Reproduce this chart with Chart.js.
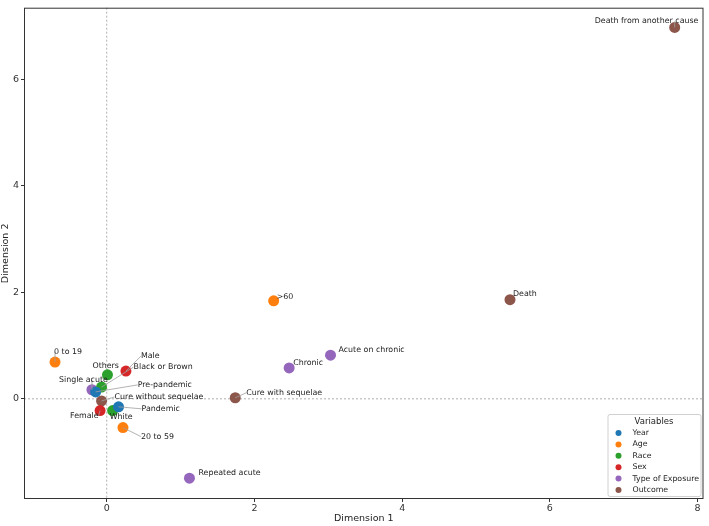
<!DOCTYPE html>
<html>
<head>
<meta charset="utf-8">
<script src="https://cdn.jsdelivr.net/npm/chart.js@4.4.1/dist/chart.umd.min.js"></script>
<style>
  body { margin: 0; background: #fff; }
  #wrap { width: 709px; height: 526px; }
</style>
</head>
<body>
<div id="wrap"><canvas id="mcaChart" width="709" height="526"></canvas></div>
<script>
// categories and coordinates (Dimension 1 / Dimension 2)
var groupNames = ['Year', 'Age', 'Race', 'Sex', 'Type of Exposure', 'Outcome'];
var groupColors = ['#1f77b4', '#ff7f0e', '#2ca02c', '#d62728', '#9467bd', '#8c564b'];

var yearLabels = ['Pre-pandemic', 'Pandemic'];
var yearDim1 = [-0.15, 0.16];
var yearDim2 = [0.13, -0.15];

var ageLabels = ['0 to 19', '20 to 59', '>60'];
var ageDim1 = [-0.70, 0.22, 2.26];
var ageDim2 = [0.69, -0.54, 1.84];

var raceLabels = ['Others', 'Black or Brown', 'White'];
var raceDim1 = [0.01, -0.07, 0.08];
var raceDim2 = [0.45, 0.22, -0.22];

var sexLabels = ['Male', 'Female'];
var sexDim1 = [0.26, -0.09];
var sexDim2 = [0.52, -0.22];

var exposureLabels = ['Single acute', 'Chronic', 'Acute on chronic', 'Repeated acute'];
var exposureDim1 = [-0.20, 2.47, 3.03, 1.12];
var exposureDim2 = [0.17, 0.58, 0.82, -1.49];

var outcomeLabels = ['Cure without sequelae', 'Cure with sequelae', 'Death', 'Death from another cause'];
var outcomeDim1 = [-0.07, 1.74, 5.46, 7.69];
var outcomeDim2 = [-0.04, 0.02, 1.86, 6.97];

var xTicks = [0, 2, 4, 6, 8];
var yTicks = [0, 2, 4, 6];

// label placement: [dx, dy, connector] in pixels from the point
var labelOffsets = {
  'Pre-pandemic': [42, -7, true],
  'Pandemic': [23, 2, true],
  '0 to 19': [-1, -10, true],
  '20 to 59': [18, 9, true],
  '>60': [3, -4, false],
  'Others': [-15, -9, false],
  'Black or Brown': [32, -20, true],
  'White': [-3, 6, false],
  'Male': [15, -15, true],
  'Female': [-30, 5, true],
  'Single acute': [-33, -10, true],
  'Chronic': [4, -5, false],
  'Acute on chronic': [8, -5, false],
  'Repeated acute': [9, -5, false],
  'Cure without sequelae': [13, -4, true],
  'Cure with sequelae': [11, -5, true],
  'Death': [3, -6, false],
  'Death from another cause': [-80, -6, true]
};

function makePoints(d1, d2, names) {
  return d1.map(function(v, i) { return { x: v, y: d2[i], name: names[i] }; });
}

var seriesData = [
  makePoints(yearDim1, yearDim2, yearLabels),
  makePoints(ageDim1, ageDim2, ageLabels),
  makePoints(raceDim1, raceDim2, raceLabels),
  makePoints(sexDim1, sexDim2, sexLabels),
  makePoints(exposureDim1, exposureDim2, exposureLabels),
  makePoints(outcomeDim1, outcomeDim2, outcomeLabels)
];

var FONT = 'DejaVu Sans';

var framePlugin = {
  id: 'frame',
  beforeDatasetsDraw: function(chart) {
    var ctx = chart.ctx, a = chart.chartArea;
    var x0 = chart.scales.x.getPixelForValue(0);
    var y0 = chart.scales.y.getPixelForValue(0);
    ctx.save();
    ctx.strokeStyle = '#9a9a9a';
    ctx.lineWidth = 0.8;
    ctx.setLineDash([2, 2]);
    ctx.beginPath();
    ctx.moveTo(x0, a.top); ctx.lineTo(x0, a.bottom);
    ctx.moveTo(a.left, y0); ctx.lineTo(a.right, y0);
    ctx.stroke();
    ctx.restore();
  },
  afterDraw: function(chart) {
    var ctx = chart.ctx, a = chart.chartArea;
    ctx.save();
    ctx.strokeStyle = '#333';
    ctx.lineWidth = 1;
    ctx.strokeRect(a.left + 0.5, a.top + 0.5, a.right - a.left - 1, a.bottom - a.top - 1);

    // legend, lower right
    var w = 93, rowH = 11.4, h = 82;
    var lx = a.right - 3 - w, ly = a.bottom - 3 - h;
    ctx.fillStyle = 'rgba(255,255,255,0.85)';
    ctx.strokeStyle = '#d0d0d0';
    ctx.beginPath();
    ctx.roundRect(lx + 0.5, ly + 0.5, w, h, 2);
    ctx.fill();
    ctx.stroke();
    ctx.fillStyle = '#222';
    ctx.font = '8.5px ' + FONT;
    ctx.textAlign = 'center';
    ctx.textBaseline = 'middle';
    ctx.fillText('Variables', lx + w / 2, ly + 8);
    ctx.textAlign = 'left';
    ctx.font = '7.8px ' + FONT;
    chart.data.datasets.forEach(function(ds, i) {
      var cy = ly + 19 + i * rowH;
      ctx.fillStyle = ds.backgroundColor;
      ctx.beginPath();
      ctx.arc(lx + 11, cy, 3, 0, Math.PI * 2);
      ctx.fill();
      ctx.fillStyle = '#222';
      ctx.fillText(ds.label, lx + 25, cy);
    });
    ctx.restore();
  }
};

var labelPlugin = {
  id: 'pointLabels',
  afterDatasetsDraw: function(chart) {
    var ctx = chart.ctx;
    ctx.save();
    ctx.font = '7.9px ' + FONT;
    ctx.textBaseline = 'middle';
    ctx.textAlign = 'left';
    chart.data.datasets.forEach(function(ds, i) {
      chart.getDatasetMeta(i).data.forEach(function(el, j) {
        var name = ds.data[j].name;
        var off = labelOffsets[name] || [5, -5, false];
        var tx = el.x + off[0], ty = el.y + off[1];
        if (off[2]) {
          var tw = ctx.measureText(name).width;
          var ex = Math.max(tx, Math.min(el.x, tx + tw));
          ctx.strokeStyle = '#a0a0a0';
          ctx.lineWidth = 0.8;
          ctx.beginPath();
          ctx.moveTo(el.x, el.y);
          ctx.lineTo(ex, ty);
          ctx.stroke();
        }
        ctx.fillStyle = '#222';
        ctx.fillText(name, tx, ty);
      });
    });
    ctx.restore();
  }
};

var datasets = seriesData.map(function(pts, i) {
  return {
    label: groupNames[i],
    data: pts,
    backgroundColor: groupColors[i],
    borderColor: groupColors[i],
    borderWidth: 0,
    pointRadius: 5.5,
    pointHoverRadius: 5.5
  };
});

new Chart(document.getElementById('mcaChart').getContext('2d'), {
  type: 'scatter',
  data: { datasets: datasets },
  options: {
    responsive: false,
    animation: false,
    layout: { padding: { top: 3, right: 4, left: 0, bottom: 0 } },
    plugins: {
      legend: { display: false },
      tooltip: { enabled: false }
    },
    scales: {
      x: {
        min: -1.12,
        max: 8.08,
        afterBuildTicks: function(scale) {
          scale.ticks = xTicks.map(function(v) { return { value: v }; });
        },
        afterFit: function(scale) { scale.height = 27; },
        border: { display: false },
        grid: { drawOnChartArea: false, drawTicks: true, tickLength: 3, color: '#333' },
        ticks: { color: '#333', font: { family: FONT, size: 9.5 }, padding: 1, maxRotation: 0 },
        title: { display: true, text: 'Dimension 1', color: '#222', font: { family: FONT, size: 9.5 }, padding: { top: 0, bottom: 2 } }
      },
      y: {
        min: -1.88,
        max: 7.34,
        afterBuildTicks: function(scale) {
          scale.ticks = yTicks.map(function(v) { return { value: v }; });
        },
        afterFit: function(scale) { scale.width = 24; },
        border: { display: false },
        grid: { drawOnChartArea: false, drawTicks: true, tickLength: 3, color: '#333' },
        ticks: { color: '#333', font: { family: FONT, size: 9.5 }, padding: 2 },
        title: { display: true, text: 'Dimension 2', color: '#222', font: { family: FONT, size: 9.5 }, padding: { top: 0, bottom: 0 } }
      }
    }
  },
  plugins: [framePlugin, labelPlugin]
});
</script>
</body>
</html>
